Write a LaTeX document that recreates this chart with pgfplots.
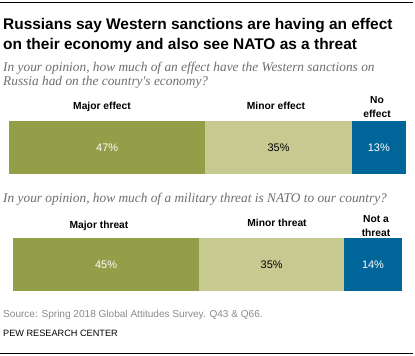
\documentclass[border=0pt]{standalone}
\usepackage{pgfplots}
\pgfplotsset{compat=1.18}
\usepackage{fontspec}
\setmainfont{Liberation Sans}
\newfontfamily\qfont{Liberation Serif}
\definecolor{olive}{HTML}{949D48}
\definecolor{lightolive}{HTML}{C6CA90}
\definecolor{pewblue}{HTML}{006699}
\definecolor{qgray}{HTML}{6E6E6E}
\definecolor{srcgray}{HTML}{8A8A8A}
\pgfplotsset{
  pewbar/.style={
    xbar stacked, hide axis, scale only axis, clip=false,
    height=53bp, bar width=53bp, ymin=0.5, ymax=1.5, xmin=0,
    enlarge x limits=false, enlarge y limits=false,
    nodes near coords, point meta=explicit symbolic,
  },
  lab/.style={every node near coord/.append style={anchor=center, inner sep=0pt,
     font=\fontsize{11}{13}\selectfont, text=#1}},
}
\begin{document}
\begin{tikzpicture}
\useasboundingbox (0,0) rectangle (415bp,-356bp);
\draw[line width=1bp] (0,-2bp) -- (413bp,-2bp);
\node[anchor=base west, inner sep=0, font=\bfseries\fontsize{15.5}{18}\selectfont] at (3bp,-29bp) {Russians say Western sanctions are having an effect};
\node[anchor=base west, inner sep=0, font=\bfseries\fontsize{15.5}{18}\selectfont] at (3bp,-49bp) {on their economy and also see NATO as a threat};
\node[anchor=base west, inner sep=0, text=qgray, font=\qfont\itshape\fontsize{13.4}{14}\selectfont] at (3bp,-71bp) {In your opinion, how much of an effect have the Western sanctions on};
\node[anchor=base west, inner sep=0, text=qgray, font=\qfont\itshape\fontsize{13.4}{14}\selectfont] at (3bp,-85bp) {Russia had on the country's economy?};
\node[anchor=base, inner sep=0, font=\bfseries\fontsize{10.3}{12}\selectfont] at (102bp,-109bp) {Major effect};
\node[anchor=base, inner sep=0, font=\bfseries\fontsize{10.3}{12}\selectfont] at (276bp,-109bp) {Minor effect};
\node[anchor=base, inner sep=0, font=\bfseries\fontsize{10.3}{12}\selectfont] at (377bp,-103bp) {No};
\node[anchor=base, inner sep=0, font=\bfseries\fontsize{10.3}{12}\selectfont] at (377bp,-117bp) {effect};

\begin{axis}[pewbar, at={(9bp,-121bp)}, anchor=north west, width=397bp, xmax=95]
\addplot[fill=olive, draw=none, lab=white] coordinates {(47,1) [47\%]};
\addplot[fill=lightolive, draw=none, lab=black] coordinates {(35,1) [35\%]};
\addplot[fill=pewblue, draw=none, lab=white] coordinates {(13,1) [13\%]};
\end{axis}

\node[anchor=base west, inner sep=0, text=qgray, font=\qfont\itshape\fontsize{13.4}{14}\selectfont] at (3bp,-202bp) {In your opinion, how much of a military threat is NATO to our country?};
\node[anchor=base, inner sep=0, font=\bfseries\fontsize{10.3}{12}\selectfont] at (99bp,-228bp) {Major threat};
\node[anchor=base, inner sep=0, font=\bfseries\fontsize{10.3}{12}\selectfont] at (277bp,-226bp) {Minor threat};
\node[anchor=base, inner sep=0, font=\bfseries\fontsize{10.3}{12}\selectfont] at (376bp,-222bp) {Not a};
\node[anchor=base, inner sep=0, font=\bfseries\fontsize{10.3}{12}\selectfont] at (376bp,-236bp) {threat};

\begin{axis}[pewbar, at={(13bp,-238bp)}, anchor=north west, width=389bp, xmax=94]
\addplot[fill=olive, draw=none, lab=white] coordinates {(45,1) [45\%]};
\addplot[fill=lightolive, draw=none, lab=black] coordinates {(35,1) [35\%]};
\addplot[fill=pewblue, draw=none, lab=white] coordinates {(14,1) [14\%]};
\end{axis}

\node[anchor=base west, inner sep=0, text=srcgray, font=\fontsize{10.1}{12}\selectfont] at (3bp,-317bp) {Source: Spring 2018 Global Attitudes Survey. Q43 \& Q66.};
\node[anchor=base west, inner sep=0, font=\fontsize{9.2}{11}\selectfont] at (3bp,-336bp) {PEW RESEARCH CENTER};
\draw[line width=1bp] (0,-353bp) -- (413bp,-353bp);
\end{tikzpicture}
\end{document}
